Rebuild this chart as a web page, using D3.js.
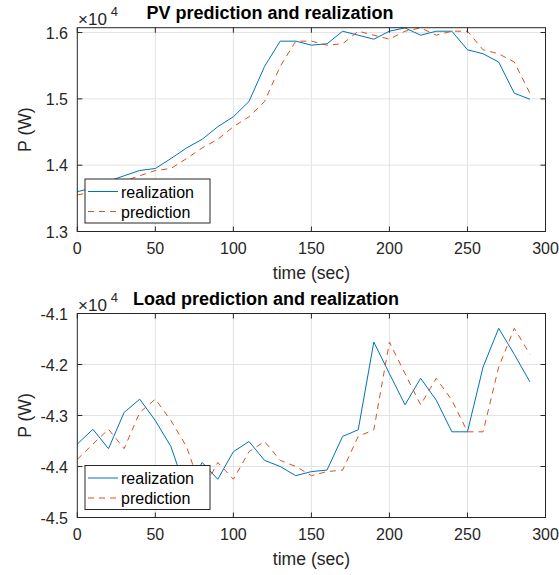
<!DOCTYPE html>
<html>
<head>
<meta charset="utf-8">
<script src="https://cdn.jsdelivr.net/npm/d3@7"></script>
<style>
  body { margin: 0; background: #fff; }
  svg { font-family: "Liberation Sans", Arial, sans-serif; }
</style>
</head>
<body>
<svg id="chart" width="559" height="575"></svg>
<script>
// time axis (sec)
var time = [0,10,20,30,40,50,60,70,80,90,100,110,120,130,140,150,160,170,180,190,200,210,220,230,240,250,260,270,280,290];

// PV (W)
var pvReal = [13600,13660,13760,13840,13920,13950,14100,14260,14390,14580,14730,14960,15490,15870,15870,15810,15830,16020,15960,15900,16020,16070,15960,16020,16020,15740,15680,15555,15085,14995];
var pvPred = [13550,13600,13660,13760,13840,13920,13950,14100,14260,14390,14580,14730,14960,15490,15870,15870,15810,15830,16020,15960,15900,16020,16070,15960,16020,16020,15740,15680,15555,15085];

// Load (W)
var loadReal = [-43560,-43270,-43650,-42940,-42680,-43100,-43610,-44500,-43920,-44250,-43710,-43510,-43880,-44000,-44180,-44100,-44070,-43410,-43280,-41560,-42180,-42790,-42270,-42700,-43320,-43320,-42050,-41290,-41800,-42340];
var loadPred = [-43860,-43560,-43270,-43650,-42940,-42680,-43100,-43610,-44500,-43920,-44250,-43710,-43510,-43880,-44000,-44180,-44100,-44070,-43410,-43280,-41560,-42180,-42790,-42270,-42700,-43320,-43320,-42050,-41290,-41800];

var xTicks = [0,50,100,150,200,250,300];
var pvTicks = [13000,14000,15000,16000];
var loadTicks = [-45000,-44000,-43000,-42000,-41000];

var svg = d3.select("#chart");
var BLUE = "#0072BD", ORANGE = "#D95319", AXIS = "#262626";

function fmt(v) {
  // MATLAB style: plain hyphen for negatives
  return d3.format(".1f")(v / 1e4).replace("\u2212", "-");
}

function drawPanel(opt) {
  var x = d3.scaleLinear().domain([0, 300]).range([77.3, 545.5]);
  var y = d3.scaleLinear().domain(opt.yDomain).range([opt.bottom, opt.top]);
  var g = svg.append("g");

  // grid
  g.selectAll(".vg").data(xTicks.slice(1, -1)).enter().append("line")
    .attr("x1", d => x(d)).attr("x2", d => x(d))
    .attr("y1", opt.top).attr("y2", opt.bottom)
    .attr("stroke", "#e3e3e3").attr("stroke-width", 1);
  g.selectAll(".hg").data(opt.yTicks).enter().append("line")
    .attr("x1", x(0)).attr("x2", x(300))
    .attr("y1", d => y(d)).attr("y2", d => y(d))
    .attr("stroke", "#e3e3e3").attr("stroke-width", 1);

  var line = d3.line().x((d, i) => x(time[i])).y(d => y(d));

  g.append("path").attr("d", line(opt.real))
    .attr("fill", "none").attr("stroke", BLUE).attr("stroke-width", 1);
  g.append("path").attr("d", line(opt.pred))
    .attr("fill", "none").attr("stroke", ORANGE).attr("stroke-width", 1)
    .attr("stroke-dasharray", "6,5");

  // box
  g.append("rect").attr("x", x(0)).attr("y", opt.top)
    .attr("width", x(300) - x(0)).attr("height", opt.bottom - opt.top)
    .attr("fill", "none").attr("stroke", AXIS).attr("stroke-width", 1);

  // ticks (inward, all sides)
  xTicks.forEach(function(t) {
    g.append("line").attr("x1", x(t)).attr("x2", x(t))
      .attr("y1", opt.bottom).attr("y2", opt.bottom - 5).attr("stroke", AXIS);
    g.append("line").attr("x1", x(t)).attr("x2", x(t))
      .attr("y1", opt.top).attr("y2", opt.top + 5).attr("stroke", AXIS);
    g.append("text").attr("x", x(t)).attr("y", opt.bottom + 22)
      .attr("text-anchor", "middle").attr("font-size", 16).attr("fill", AXIS)
      .text(t);
  });
  opt.yTicks.forEach(function(t) {
    g.append("line").attr("x1", x(0)).attr("x2", x(0) + 5)
      .attr("y1", y(t)).attr("y2", y(t)).attr("stroke", AXIS);
    g.append("line").attr("x1", x(300)).attr("x2", x(300) - 5)
      .attr("y1", y(t)).attr("y2", y(t)).attr("stroke", AXIS);
    g.append("text").attr("x", 68).attr("y", y(t) + 6)
      .attr("text-anchor", "end").attr("font-size", 16).attr("fill", AXIS)
      .text(fmt(t));
  });

  // exponent
  var ex = g.append("text").attr("x", 78).attr("y", opt.top - 3)
    .attr("font-size", 17).attr("fill", AXIS);
  ex.append("tspan").text("\u00d710");
  ex.append("tspan").attr("dy", -9).attr("dx", 4).attr("font-size", 13).text("4");

  // title
  g.append("text").attr("x", opt.titleX).attr("y", opt.top - 9)
    .attr("text-anchor", "middle").attr("font-size", 18).attr("font-weight", "bold")
    .attr("fill", "#000").text(opt.title);

  // axis labels
  g.append("text").attr("x", x(150)).attr("y", opt.bottom + 47)
    .attr("text-anchor", "middle").attr("font-size", 17.6).attr("fill", AXIS)
    .text("time (sec)");
  var cy = (opt.top + opt.bottom) / 2;
  g.append("text").attr("transform", "translate(31," + cy + ") rotate(-90)")
    .attr("text-anchor", "middle").attr("font-size", 17.6).attr("fill", AXIS)
    .text("P (W)");

  // legend
  var lg = g.append("g").attr("transform", "translate(85," + opt.legendTop + ")");
  lg.append("rect").attr("width", 125).attr("height", 44)
    .attr("fill", "#fff").attr("stroke", AXIS).attr("stroke-width", 1);
  lg.append("line").attr("x1", 3).attr("x2", 33).attr("y1", 12.5).attr("y2", 12.5)
    .attr("stroke", BLUE);
  lg.append("line").attr("x1", 3).attr("x2", 33).attr("y1", 32.5).attr("y2", 32.5)
    .attr("stroke", ORANGE).attr("stroke-dasharray", "6,5");
  lg.append("text").attr("x", 36).attr("y", 18.5).attr("font-size", 16)
    .attr("fill", "#000").text("realization");
  lg.append("text").attr("x", 36).attr("y", 38.5).attr("font-size", 16)
    .attr("fill", "#000").text("prediction");
}

drawPanel({
  top: 27.7, bottom: 231.5, yDomain: [13000, 16073], yTicks: pvTicks,
  real: pvReal, pred: pvPred, title: "PV prediction and realization",
  legendTop: 179, titleX: 270
});
drawPanel({
  top: 313.5, bottom: 517.5, yDomain: [-45000, -41000], yTicks: loadTicks,
  real: loadReal, pred: loadPred, title: "Load prediction and realization",
  legendTop: 465.5, titleX: 266
});
</script>
</body>
</html>
